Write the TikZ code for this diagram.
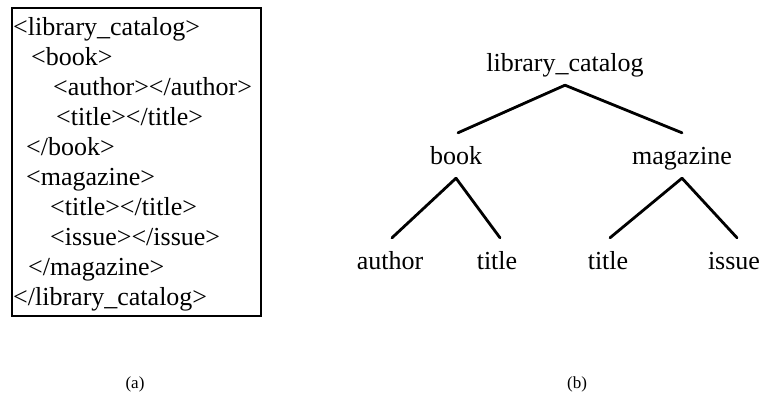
\documentclass[tikz,border=0pt]{standalone}
\usepackage{fontspec}
\setmainfont{Liberation Serif}
\begin{document}
\begin{tikzpicture}[x=1pt,y=-1pt,
  codeline/.style={anchor=west,inner sep=0pt,text height=18pt,text depth=5pt,font=\fontsize{26}{30}\selectfont},
  treenode/.style={inner sep=0pt,text height=18pt,text depth=5pt,font=\fontsize{26}{30}\selectfont},
  edge/.style={line width=2.8pt,line cap=round},
  caption/.style={inner sep=0pt,font=\fontsize{17}{20}\selectfont}]
\useasboundingbox (0,0) rectangle (763,403);
% (a) XML listing
\draw[line width=1.4pt] (12,8) rectangle (261,316);
\node[codeline] (l1) at (13,29) {<library\_catalog>};
\node[codeline] (l2) at (31,59) {<book>};
\node[codeline] (l3) at (53,89) {<author></author>};
\node[codeline] (l4) at (56,119) {<title></title>};
\node[codeline] (l5) at (26,149) {</book>};
\node[codeline] (l6) at (26,179) {<magazine>};
\node[codeline] (l7) at (50,209) {<title></title>};
\node[codeline] (l8) at (50,239) {<issue></issue>};
\node[codeline] (l9) at (28,269) {</magazine>};
\node[codeline] (l10) at (13,299) {</library\_catalog>};
% (b) tree
\node[treenode] (root) at (565,65) {library\_catalog};
\node[treenode] (book) at (456,158) {book};
\node[treenode] (mag) at (682,158) {magazine};
\node[treenode] (author) at (390,263) {author};
\node[treenode] (btitle) at (497,263) {title};
\node[treenode] (mtitle) at (608,263) {title};
\node[treenode] (issue) at (734,263) {issue};
\draw[edge] ([yshift=-8.5pt]root.south) -- ([xshift=2pt,yshift=13.5pt]book.north);
\draw[edge] ([yshift=-8.5pt]root.south) -- ([yshift=13.5pt]mag.north);
\draw[edge] ([yshift=-8.5pt]book.south) -- ([xshift=2pt,yshift=13.5pt]author.north);
\draw[edge] ([yshift=-8.5pt]book.south) -- ([xshift=3pt,yshift=13.5pt]btitle.north);
\draw[edge] ([yshift=-8.5pt]mag.south) -- ([xshift=2pt,yshift=13.5pt]mtitle.north);
\draw[edge] ([yshift=-8.5pt]mag.south) -- ([xshift=3pt,yshift=13.5pt]issue.north);
% captions
\node[caption] (capa) at (135,384) {(a)};
\node[caption] (capb) at (577,384) {(b)};
\end{tikzpicture}
\end{document}
